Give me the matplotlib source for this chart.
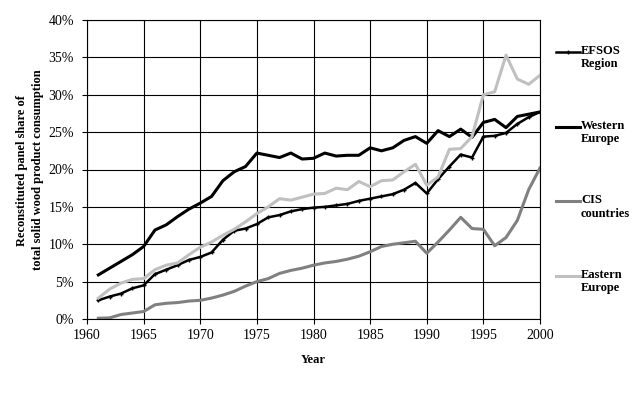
import numpy as np
import matplotlib
matplotlib.use("Agg")
import matplotlib.pyplot as plt
from matplotlib.lines import Line2D

plt.rcParams["font.family"] = ["Liberation Serif", "DejaVu Serif"]

years = np.arange(1961, 2001)

efsos = [2.5, 3.0, 3.4, 4.1, 4.5, 6.0, 6.6, 7.2, 7.9, 8.3,
         8.9, 10.6, 11.8, 12.1, 12.7, 13.6, 13.9, 14.4, 14.7, 14.9,
         15.0, 15.2, 15.4, 15.8, 16.1, 16.4, 16.7, 17.3, 18.2, 16.8,
         18.7, 20.4, 22.0, 21.6, 24.4, 24.5, 24.9, 26.1, 27.0, 27.7]
western = [5.9, 6.8, 7.7, 8.6, 9.7, 11.9, 12.6, 13.7, 14.7, 15.5,
           16.4, 18.5, 19.7, 20.4, 22.2, 21.9, 21.6, 22.2, 21.4, 21.5,
           22.2, 21.8, 21.9, 21.9, 22.9, 22.5, 22.9, 23.9, 24.4, 23.5,
           25.2, 24.4, 25.4, 24.3, 26.3, 26.7, 25.6, 27.1, 27.4, 27.7]
cis = [0.1, 0.15, 0.6, 0.8, 1.0, 1.9, 2.1, 2.2, 2.4, 2.5,
       2.8, 3.2, 3.7, 4.4, 5.0, 5.4, 6.1, 6.5, 6.8, 7.2,
       7.5, 7.7, 8.0, 8.4, 9.0, 9.7, 10.0, 10.2, 10.4, 8.8,
       10.3, 11.9, 13.6, 12.1, 12.0, 9.8, 10.9, 13.2, 17.3, 20.2]
eastern = [2.8, 4.0, 4.8, 5.3, 5.4, 6.6, 7.2, 7.5, 8.6, 9.6,
           10.3, 11.2, 12.0, 13.0, 14.1, 15.0, 16.1, 15.9, 16.3, 16.7,
           16.8, 17.5, 17.3, 18.4, 17.7, 18.5, 18.6, 19.7, 20.7, 17.9,
           19.0, 22.7, 22.8, 24.4, 30.0, 30.4, 35.3, 32.1, 31.4, 32.6]

series = [
    ("EFSOS\nRegion", efsos, "#000000", 1.8, "+"),
    ("Western\nEurope", western, "#000000", 2.2, None),
    ("CIS\ncountries", cis, "#808080", 2.2, None),
    ("Eastern\nEurope", eastern, "#c0c0c0", 2.2, None),
]

W, H = 642, 394
fig = plt.figure(figsize=(W / 100, H / 100), dpi=100)
ax = fig.add_axes([87 / W, 1 - 319 / H, (540 - 87) / W, (319 - 20) / H])

for name, vals, col, lw, mk in series:
    ax.plot(years, np.asarray(vals) / 100, color=col, lw=lw,
            marker=mk, ms=3.2, mew=1.0, solid_joinstyle="round")

ax.set_xlim(1960, 2000)
ax.set_ylim(0, 0.40)
ax.set_xticks(np.arange(1960, 2001, 5))
ax.set_yticks(np.arange(0, 0.401, 0.05))
ax.set_yticklabels([f"{int(round(v * 100))}%" for v in np.arange(0, 0.401, 0.05)])
ax.grid(True, color="black", lw=0.8)
ax.set_axisbelow(True)
for sp in ax.spines.values():
    sp.set_linewidth(0.8)
ax.tick_params(axis="both", direction="out", length=3.5, width=0.8,
               labelsize=10)
ax.tick_params(axis="x", pad=4)
ax.tick_params(axis="y", pad=6)

ax.set_xlabel("Year", fontsize=9, fontweight="bold", labelpad=8)
fig.text(30 / W, 1 - 170 / H,
         "Reconstituted panel share of\ntotal solid wood product consumption",
         rotation=90, ha="center", va="center", multialignment="center",
         fontsize=9, fontweight="bold", linespacing=1.45)

# legend drawn at the right, line aligned with first text line
y0, step = 52, 74.7
for i, (name, vals, col, lw, mk) in enumerate(series):
    yy = 1 - (y0 + i * step) / H
    fig.add_artist(Line2D([556 / W, 568 / W, 580 / W], [yy, yy, yy],
                          color=col, lw=lw, marker=mk, ms=3.2, mew=1.0,
                          markevery=[1]))
    fig.text(581 / W, yy + 7 / H, name, ha="left", va="top",
             fontsize=9, fontweight="bold", linespacing=1.15)

fig.savefig("out.png", dpi=100)
